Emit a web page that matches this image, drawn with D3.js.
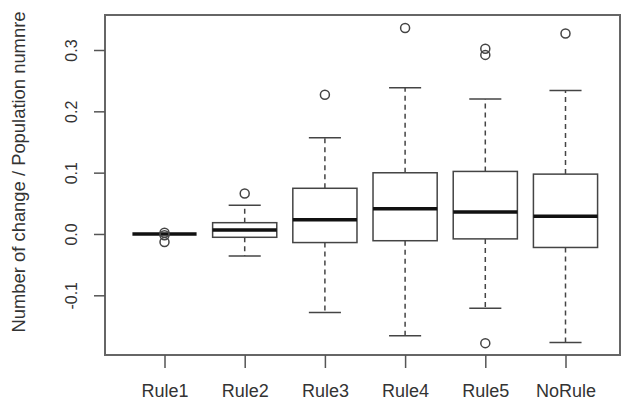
<!DOCTYPE html>
<html><head><meta charset="utf-8">
<script src="https://cdn.jsdelivr.net/npm/d3@7/dist/d3.min.js"></script>
<style>body{margin:0;background:#fff}svg{display:block}text{font-family:"Liberation Sans",Arial,sans-serif;fill:#333}</style>
</head><body><svg id="c" width="622" height="405"></svg>
<script>
const categories = ["Rule1","Rule2","Rule3","Rule4","Rule5","NoRule"];
const lowerWhisker = [0, -0.036, -0.128, -0.166, -0.121, -0.177];
const q1 = [0, -0.0054, -0.014, -0.011, -0.008, -0.022];
const median = [0, 0.0065, 0.023, 0.041, 0.036, 0.029];
const q3 = [0, 0.0184, 0.0745, 0.0998, 0.102, 0.0976];
const upperWhisker = [0, 0.047, 0.157, 0.2385, 0.22, 0.234];
const outliers = [[0.002, -0.002, -0.013], [0.066], [0.227], [0.336], [0.302, 0.292, -0.178], [0.327]];
const yTicks = [-0.1, 0.0, 0.1, 0.2, 0.3];
const yTickLabels = ["-0.1", "0.0", "0.1", "0.2", "0.3"];
const yTitle = "Number of change / Population numnre";

const svg = d3.select("#c");
const L = 105, T = 15, R = 620, B = 355;
const x = d3.scalePoint().domain(categories).range([164.5, 565.5]);
const step = x.step();
const y = d3.scaleLinear().domain([-0.1, 0.3]).range([295.3, 50]);
const boxW = step * 0.8, capW = boxW / 2;
const lineCol = "#444";

// plot frame
svg.append("rect").attr("x", L).attr("y", T).attr("width", R - L).attr("height", B - T)
  .attr("fill", "none").attr("stroke", "#666").attr("stroke-width", 2);

// y axis
const yAxis = d3.axisLeft(y).tickValues(yTicks).tickSize(11).tickFormat((d, i) => yTickLabels[i]);
const ga = svg.append("g").attr("transform", `translate(${L},0)`).call(yAxis);
ga.select(".domain").remove();
ga.selectAll(".tick line").attr("stroke", "#555").attr("stroke-width", 1.5);
ga.selectAll(".tick text").remove();
ga.selectAll(".tick").append("text")
  .attr("transform", "translate(-28,0) rotate(-90)")
  .attr("text-anchor", "middle").attr("fill", "#333")
  .style("font-size", "16px")
  .text((d, i) => yTickLabels[i]);

// x axis
const xAxis = d3.axisBottom(x).tickSize(13).tickPadding(16);
const gx = svg.append("g").attr("transform", `translate(0,${B})`).call(xAxis);
gx.select(".domain").remove();
gx.selectAll(".tick line").attr("stroke", "#555").attr("stroke-width", 1.5);
gx.selectAll(".tick text").attr("fill", "#333").style("font-size", "18px").style("font-family", '"Liberation Sans",Arial,sans-serif');

// y title
svg.append("text").attr("transform", "translate(25,172) rotate(-90)")
  .attr("text-anchor", "middle").style("font-size", "18.4px").text(yTitle);

// boxes
categories.forEach((c, i) => {
  const cx = x(c);
  const g = svg.append("g");
  if (upperWhisker[i] !== q3[i]) {
    g.append("line").attr("x1", cx).attr("x2", cx).attr("y1", y(q3[i])).attr("y2", y(upperWhisker[i]))
      .attr("stroke", lineCol).attr("stroke-width", 1.5).attr("stroke-dasharray", "5,4");
    g.append("line").attr("x1", cx - capW / 2).attr("x2", cx + capW / 2).attr("y1", y(upperWhisker[i])).attr("y2", y(upperWhisker[i]))
      .attr("stroke", lineCol).attr("stroke-width", 1.5);
  }
  if (lowerWhisker[i] !== q1[i]) {
    g.append("line").attr("x1", cx).attr("x2", cx).attr("y1", y(q1[i])).attr("y2", y(lowerWhisker[i]))
      .attr("stroke", lineCol).attr("stroke-width", 1.5).attr("stroke-dasharray", "5,4");
    g.append("line").attr("x1", cx - capW / 2).attr("x2", cx + capW / 2).attr("y1", y(lowerWhisker[i])).attr("y2", y(lowerWhisker[i]))
      .attr("stroke", lineCol).attr("stroke-width", 1.5);
  }
  g.append("rect").attr("x", cx - boxW / 2).attr("y", y(q3[i])).attr("width", boxW)
    .attr("height", Math.max(0, y(q1[i]) - y(q3[i]))).attr("fill", "#fff")
    .attr("stroke", lineCol).attr("stroke-width", 1.5);
  g.append("line").attr("x1", cx - boxW / 2).attr("x2", cx + boxW / 2).attr("y1", y(median[i])).attr("y2", y(median[i]))
    .attr("stroke", "#111").attr("stroke-width", 3.5);
  outliers[i].forEach(v => {
    g.append("circle").attr("cx", cx).attr("cy", y(v)).attr("r", 4.5)
      .attr("fill", "none").attr("stroke", lineCol).attr("stroke-width", 1.5);
  });
});
</script></body></html>
